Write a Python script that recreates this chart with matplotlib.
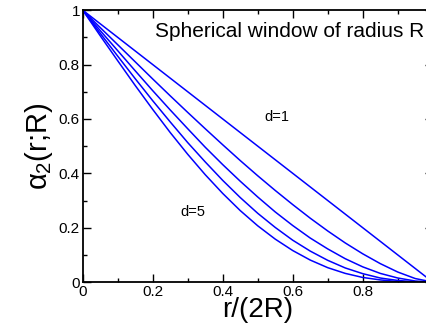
import numpy as np
import matplotlib
matplotlib.use('Agg')
import matplotlib.pyplot as plt
from matplotlib.ticker import MultipleLocator

plt.rcParams['font.family'] = ['Liberation Sans', 'DejaVu Sans']
plt.rcParams['mathtext.fontset'] = 'custom'
plt.rcParams['mathtext.rm'] = 'Liberation Sans'
plt.rcParams['mathtext.it'] = 'Liberation Sans'

# r/(2R) sample points
x = [0.00, 0.05, 0.10, 0.15, 0.20, 0.25, 0.30, 0.35, 0.40, 0.45, 0.50,
     0.55, 0.60, 0.65, 0.70, 0.75, 0.80, 0.85, 0.90, 0.95, 1.00]

# alpha_2(r;R), d = 1..5
d1 = [1.000, 0.950, 0.900, 0.850, 0.800, 0.750, 0.700, 0.650, 0.600, 0.550, 0.500,
      0.450, 0.400, 0.350, 0.300, 0.250, 0.200, 0.150, 0.100, 0.050, 0.000]
d2 = [1.000, 0.936, 0.873, 0.810, 0.747, 0.685, 0.624, 0.564, 0.505, 0.447, 0.391,
      0.337, 0.285, 0.235, 0.188, 0.144, 0.104, 0.068, 0.037, 0.013, 0.000]
d3 = [1.000, 0.925, 0.851, 0.777, 0.704, 0.633, 0.564, 0.496, 0.432, 0.371, 0.313,
      0.258, 0.208, 0.162, 0.122, 0.086, 0.056, 0.032, 0.015, 0.004, 0.000]
d4 = [1.000, 0.915, 0.831, 0.748, 0.667, 0.589, 0.513, 0.442, 0.374, 0.311, 0.253,
      0.201, 0.154, 0.114, 0.080, 0.052, 0.031, 0.015, 0.006, 0.001, 0.000]
d5 = [1.000, 0.906, 0.814, 0.723, 0.635, 0.550, 0.470, 0.395, 0.326, 0.263, 0.207,
      0.158, 0.116, 0.081, 0.053, 0.032, 0.017, 0.008, 0.002, 0.000, 0.000]

curves = [d1, d2, d3, d4, d5]

fig = plt.figure(figsize=(4.27, 3.28), dpi=100)
ax = fig.add_axes([0.1937, 0.140, 0.8197, 0.829])

for y in curves:
    ax.plot(x, y, color='#0000ff', lw=1.1)

ax.set_xlim(0, 1)
ax.set_ylim(0, 1)
ax.set_xticks([0, 0.2, 0.4, 0.6, 0.8])
ax.xaxis.set_minor_locator(MultipleLocator(0.1))
ax.yaxis.set_major_locator(MultipleLocator(0.2))
ax.yaxis.set_minor_locator(MultipleLocator(0.1))
fmt = lambda v, p: '%g' % v
ax.xaxis.set_major_formatter(plt.FuncFormatter(fmt))
ax.yaxis.set_major_formatter(plt.FuncFormatter(fmt))
ax.tick_params(which='both', direction='in', top=True, right=True, labelsize=11, pad=2)
ax.tick_params(which='major', length=6, width=1)
ax.tick_params(which='minor', length=3, width=1)
for s in ax.spines.values():
    s.set_linewidth(1.3)

ax.set_xlabel('r/(2R)', fontsize=20, labelpad=-1)
ax.set_ylabel(r'$\alpha_2$(r;R)', fontsize=21, labelpad=3)

ax.text(0.207, 0.92, 'Spherical window of radius R', fontsize=15, va='center')
ax.text(0.52, 0.607, 'd=1', fontsize=10.5, va='center')
ax.text(0.278, 0.257, 'd=5', fontsize=10.5, va='center')

fig.savefig('out.png', dpi=100)
